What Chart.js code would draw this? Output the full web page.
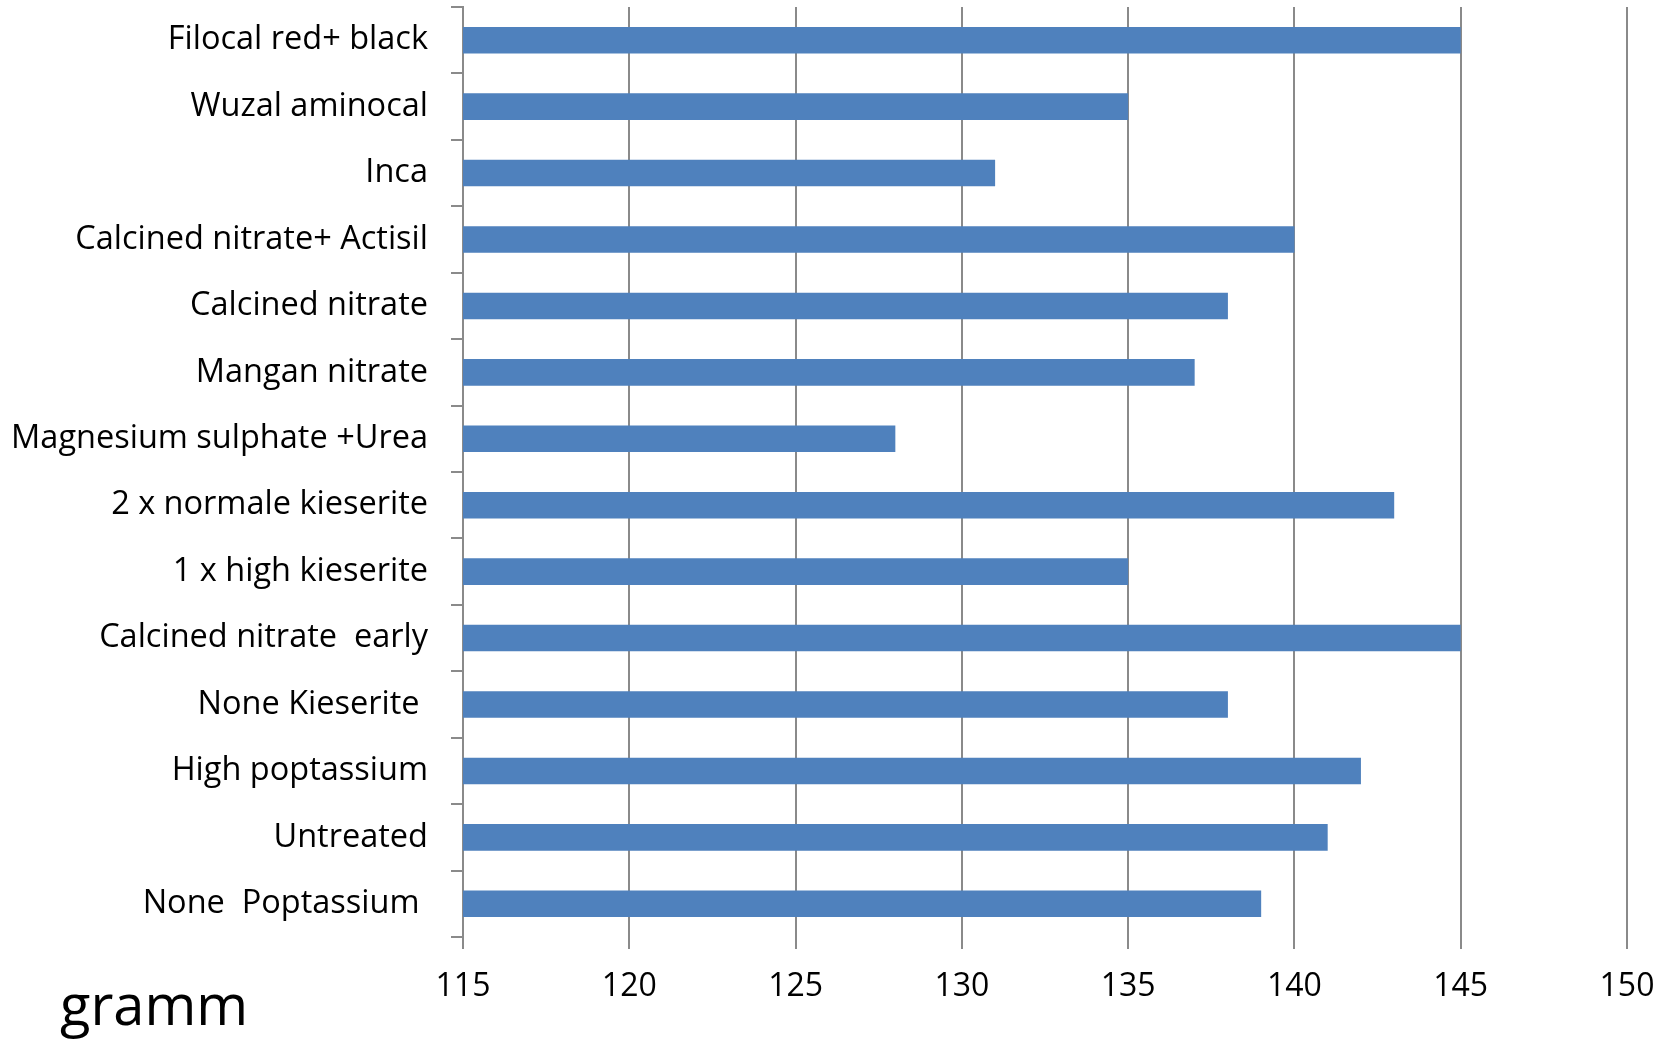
<!DOCTYPE html>
<html>
<head>
<meta charset="utf-8">
<script src="https://cdn.jsdelivr.net/npm/chart.js@4"></script>
<style>
html,body{margin:0;padding:0;background:#fff;}
#wrap{position:relative;width:1670px;height:1040px;}
</style>
</head>
<body>
<div id="wrap"><canvas id="c" width="1670" height="1040"></canvas></div>
<script>
const categories = [
  "Filocal red+ black",
  "Wuzal aminocal",
  "Inca",
  "Calcined nitrate+ Actisil",
  "Calcined nitrate",
  "Mangan nitrate",
  "Magnesium sulphate +Urea",
  "2 x normale kieserite",
  "1 x high kieserite",
  "Calcined nitrate  early",
  "None Kieserite ",
  "High poptassium",
  "Untreated",
  "None  Poptassium "
];
const values = [145, 135, 131, 140, 138, 137, 128, 143, 135, 145, 138, 142, 141, 139];
const xTicks = [115, 120, 125, 130, 135, 140, 145, 150];
const unitLabel = "gramm";

const FONT = "'Open Sans', 'Noto Sans', sans-serif";

const unitPlugin = {
  id: 'unitLabel',
  afterDraw(chart) {
    const ctx = chart.ctx;
    ctx.save();
    ctx.font = "56px " + FONT;
    ctx.fillStyle = "#000";
    ctx.textAlign = "left";
    ctx.textBaseline = "alphabetic";
    ctx.fillText(unitLabel, 60, 1025);
    ctx.restore();
  }
};

new Chart(document.getElementById('c'), {
  type: 'bar',
  data: {
    labels: categories,
    datasets: [{
      data: values,
      backgroundColor: '#4F81BD',
      borderWidth: 0,
      barPercentage: 0.4,
      categoryPercentage: 1.0
    }]
  },
  options: {
    indexAxis: 'y',
    responsive: false,
    animation: false,
    layout: { padding: { top: 7, right: 43, left: 0, bottom: 0 } },
    plugins: {
      legend: { display: false },
      tooltip: { enabled: false }
    },
    scales: {
      x: {
        type: 'linear',
        min: xTicks[0],
        max: xTicks[xTicks.length - 1],
        afterBuildTicks(scale) { scale.ticks = xTicks.map(v => ({ value: v })); },
        afterFit(scale) { scale.height = 103; scale.paddingLeft = 0; scale.paddingRight = 0; },
        border: { display: false },
        grid: { color: '#8a8a8a', lineWidth: 2, tickLength: 12, drawTicks: true },
        ticks: { color: '#000', font: { family: FONT, size: 32 }, padding: 19 }
      },
      y: {
        type: 'category',
        afterFit(scale) { scale.width = 463; scale.paddingTop = 0; scale.paddingBottom = 0; },
        border: { display: true, color: '#8a8a8a', width: 2 },
        grid: { offset: true, drawOnChartArea: false, color: '#8a8a8a', lineWidth: 2, tickLength: 12 },
        ticks: { color: '#000', font: { family: FONT, size: 32.5 }, padding: 23, autoSkip: false }
      }
    }
  },
  plugins: [unitPlugin]
});
</script>
</body>
</html>
